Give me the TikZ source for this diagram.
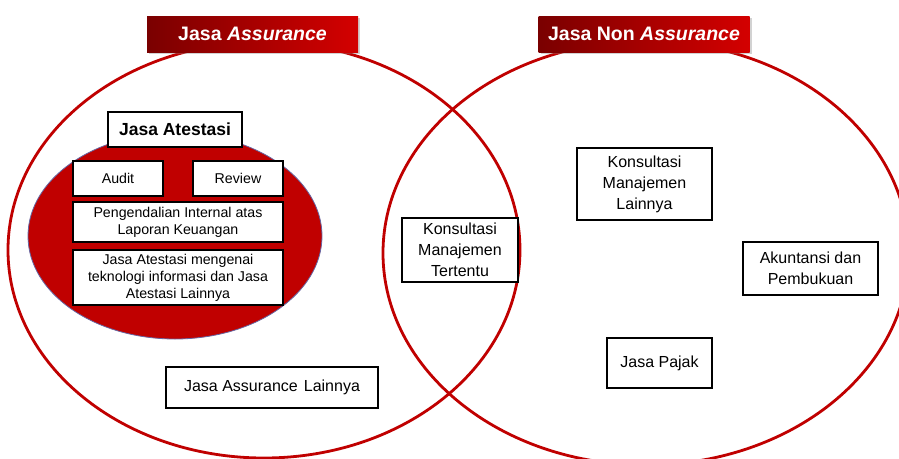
\documentclass[tikz,border=0pt]{standalone}
\usepackage{fontspec}
\setmainfont{Liberation Sans}
\usetikzlibrary{shapes.geometric,shadows}
\definecolor{vred}{HTML}{C00000}
\definecolor{dred}{HTML}{7A0000}
\definecolor{bred}{HTML}{D40000}
\tikzset{
  bigring/.style={ellipse,draw=vred,line width=2.8pt,inner sep=0pt},
  titlebox/.style={rectangle,left color=dred,right color=bred,draw=none,
    text=white,font=\fontsize{19.5}{22}\selectfont\bfseries,
    minimum width=211pt,minimum height=36pt,inner sep=0pt,
    drop shadow={shadow xshift=2pt,shadow yshift=-2pt,opacity=0.35}},
  itembox/.style={rectangle,draw=black,line width=2.2pt,fill=white,align=center,
    inner sep=0pt},
  smalltext/.style={font=\fontsize{14.2}{17}\selectfont},
  bigtext/.style={font=\fontsize{16}{21}\selectfont},
}
\begin{document}
\begin{tikzpicture}[x=1pt,y=-1pt]
\useasboundingbox (0,0) rectangle (899,458);
\clip (0,0) rectangle (899,458);
\fill[white] (0,0) rectangle (899,458);
% big rings
\node[bigring,minimum width=512pt,minimum height=416pt] (lring) at (264,250) {};
\node[bigring,minimum width=526pt,minimum height=424pt] (rring) at (646,253) {};
% inner red ellipse
\node[ellipse,fill=vred,draw=black!60!blue!60,line width=0.8pt,inner sep=0pt,
  minimum width=294pt,minimum height=206pt] (inner) at (175,236) {};
% titles
\node[titlebox] (t1) at (252.5,34) {Jasa \textit{Assurance}};
\node[titlebox] (t2) at (644,34) {Jasa Non \textit{Assurance}};
% attestation boxes
\node[itembox,line width=2.6pt,minimum width=134pt,minimum height=35pt,
  font=\fontsize{17.5}{20}\selectfont\bfseries] (atest) at (175,129.5) {Jasa Atestasi};
\node[itembox,smalltext,minimum width=90pt,minimum height=35pt] (audit) at (118,178.5) {Audit};
\node[itembox,smalltext,minimum width=90pt,minimum height=35pt] (review) at (238,178.5) {Review};
\node[itembox,smalltext,minimum width=210pt,minimum height=40pt] (pik) at (178,222)
  {Pengendalian Internal atas\\Laporan Keuangan};
\node[itembox,smalltext,minimum width=210pt,minimum height=55pt] (ti) at (178,277.5)
  {Jasa Atestasi mengenai\\teknologi informasi dan Jasa\\Atestasi Lainnya};
\node[itembox,bigtext,minimum width=212pt,minimum height=41pt] (jal) at (272,387.5)
  {Jasa Assurance\hspace{6pt}Lainnya};
% middle
\node[itembox,bigtext,minimum width=116pt,minimum height=64pt] (kmt) at (460,250)
  {Konsultasi\\Manajemen\\Tertentu};
% right
\node[itembox,bigtext,minimum width=135pt,minimum height=72pt] (kml) at (644.5,184)
  {Konsultasi\\Manajemen\\Lainnya};
\node[itembox,bigtext,minimum width=135pt,minimum height=53pt] (akp) at (810.5,268.5)
  {Akuntansi dan\\Pembukuan};
\node[itembox,bigtext,minimum width=105pt,minimum height=50pt] (pajak) at (659.5,363)
  {Jasa Pajak};
\end{tikzpicture}
\end{document}
